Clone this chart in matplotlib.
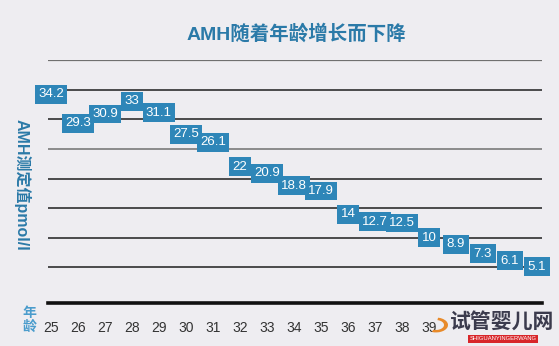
import matplotlib
matplotlib.use("Agg")
import matplotlib.pyplot as plt
from matplotlib.patches import Rectangle, Wedge

# AMH values by age
ages = list(range(25, 44))
amh = [34.2, 29.3, 30.9, 33, 31.1, 27.5, 26.1, 22, 20.9, 18.8,
       17.9, 14, 12.7, 12.5, 10, 8.9, 7.3, 6.1, 5.1]
# ages past 39 sit under the site mark and carry no label
age_labels = [str(a) if a <= 39 else "" for a in ages]
grid_levels = [5, 10, 15, 20, 25, 30, 35, 40]

title = "AMH随着年龄增长而下降"
ylabel = "AMH测定值pmol/l"
xlabel = "年\n龄"

BG = "#eeedf1"
BLUE = "#2e86b8"
TITLE_BLUE = "#2b7aa8"
FONTS = ["Liberation Sans", "Noto Sans CJK SC", "DejaVu Sans"]
plt.rcParams["font.family"] = FONTS

fig = plt.figure(figsize=(5.59, 3.46), dpi=100, facecolor=BG)
ax = fig.add_axes([48 / 559, 43 / 346, 494 / 559, 243 / 346])
ax.set_facecolor(BG)
ax.set_xlim(24.89, 43.19)
ax.set_ylim(-1, 40)

for lv in grid_levels:
    col = "#707070" if lv in (40, 25) else "#1e1e1e"
    lw = 1.6 if lv == 40 else 1.1
    ax.axhline(lv, color=col, lw=lw, zorder=1)
ax.axhline(-1, color="#111111", lw=2.6, zorder=1, clip_on=False)

# value boxes first, then all numbers above them so none is hidden
for a, v in zip(ages, amh):
    ax.text(a, v, f"{v:g}", ha="center", va="center", color="none",
            fontsize=9.5, zorder=4, clip_on=False,
            bbox=dict(boxstyle="square,pad=0.26", fc=BLUE, ec="none"))
for a, v in zip(ages, amh):
    ax.text(a, v, f"{v:g}", ha="center", va="center", color="white",
            fontsize=9.5, zorder=6, clip_on=False)

for s in ax.spines.values():
    s.set_visible(False)
ax.set_yticks([])
ax.set_xticks(ages)
ax.set_xticklabels(age_labels, fontsize=10, color="#333333")
ax.tick_params(axis="x", length=0, pad=13)

fig.text(296 / 559, 1 - 34 / 346, title, ha="center", va="center",
         fontsize=14, fontweight="bold", color=TITLE_BLUE)
fig.text(22 / 559, 1 - 185 / 346, ylabel, ha="center", va="center",
         rotation=-90, fontsize=11.5, fontweight="bold", color=TITLE_BLUE)
fig.text(29 / 559, 1 - 320 / 346, xlabel, ha="center", va="center",
         fontsize=10, fontweight="bold", color="#4a9ccc", linespacing=1.0)

# site watermark in the lower right corner
fig.patches.append(Rectangle((444 / 559, 0), 115 / 559, 37 / 346,
                             transform=fig.transFigure, fc=BG, ec="none",
                             alpha=0.9, zorder=10))
fig.patches.append(Wedge((436 / 559, 1 - 325 / 346), 12 / 559, 250, 80,
                         width=4 / 559, transform=fig.transFigure,
                         fc="#e88a2a", ec="none", zorder=11))
fig.text(450 / 559, 1 - 322 / 346, "试管婴儿网", ha="left", va="center",
         fontsize=15, fontweight="bold", color="#3b3b4d", zorder=12)
fig.text(503 / 559, 1 - 339 / 346, "SHIGUANYINGERWANG", ha="center",
         va="center", fontsize=4.2, color="white", zorder=12,
         bbox=dict(boxstyle="square,pad=0.3", fc="#d8262a", ec="none"))

fig.savefig("out.png", dpi=100, facecolor=BG)
